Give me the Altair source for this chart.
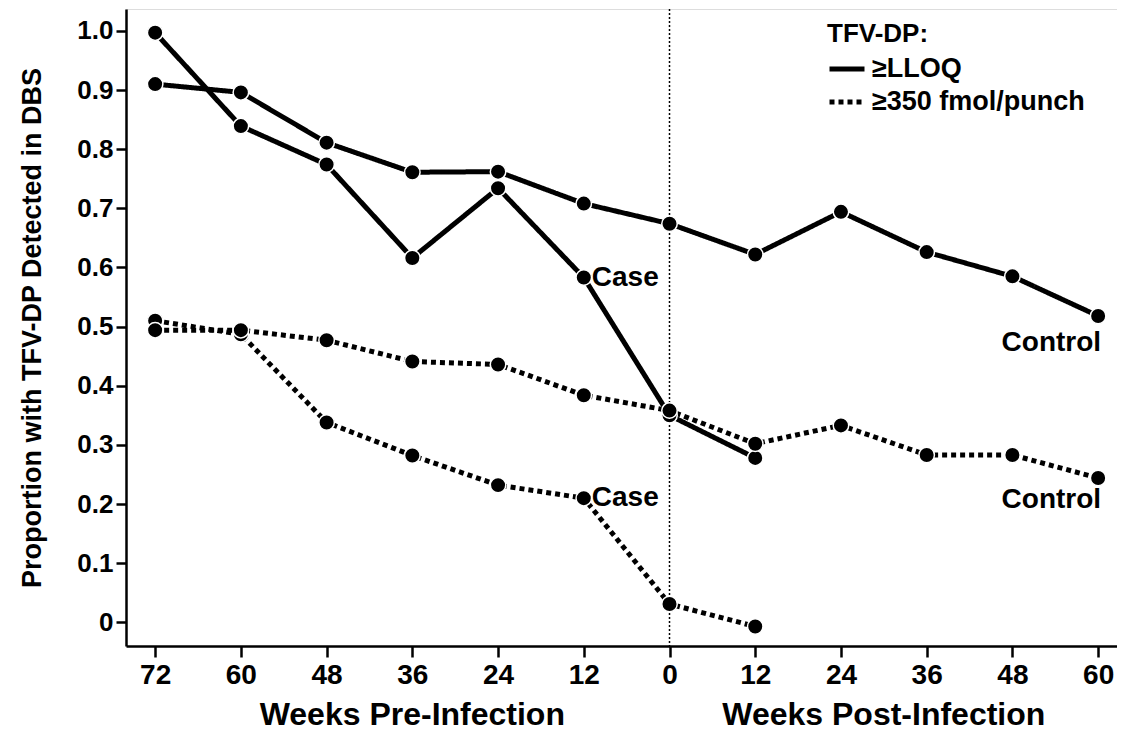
import altair as alt
import pandas as pd

tick_labels = ["72", "60", "48", "36", "24", "12", "0", "12", "24", "36", "48", "60"]
idx = list(range(12))

case_lloq = [0.997, 0.839, 0.774, 0.616, 0.734, 0.583, 0.350, 0.278]
control_lloq = [0.910, 0.896, 0.811, 0.761, 0.762, 0.708, 0.674, 0.622, 0.694, 0.626, 0.585, 0.518]
case_350 = [0.510, 0.487, 0.338, 0.282, 0.232, 0.210, 0.031, -0.007]
control_350 = [0.494, 0.494, 0.477, 0.441, 0.436, 0.384, 0.358, 0.302, 0.333, 0.283, 0.283, 0.244]

M1 = "≥LLOQ"
M2 = "≥350 fmol/punch"

rows = []
for name, grp, meas, vals in [
    ("case_lloq", "Case", M1, case_lloq),
    ("control_lloq", "Control", M1, control_lloq),
    ("case_350", "Case", M2, case_350),
    ("control_350", "Control", M2, control_350),
]:
    for i, v in enumerate(vals):
        rows.append({"idx": idx[i], "value": v, "group": grp, "measure": meas, "series": name})
df = pd.DataFrame(rows)

case_labels = pd.DataFrame([
    {"idx": 5, "value": case_lloq[5], "text": "Case"},
    {"idx": 5, "value": case_350[5], "text": "Case"},
])
control_upper = pd.DataFrame([{"idx": 11, "value": control_lloq[11], "text": "Control"}])
control_lower = pd.DataFrame([{"idx": 11, "value": control_350[11], "text": "Control"}])

FONT = "Liberation Sans"
W, H = 991, 637

label_expr = "[" + ",".join("'%s'" % t for t in tick_labels) + "][datum.value]"

x_enc = alt.X("idx:Q",
              scale=alt.Scale(domain=[-0.34, 11.22], nice=False, zero=False),
              axis=alt.Axis(values=idx, labelExpr=label_expr, title=None, grid=False,
                            labelFont=FONT, labelFontSize=28, labelFontWeight="bold",
                            labelColor="black", labelPadding=4,
                            tickSize=11, tickWidth=2.5, tickColor="black",
                            domainWidth=2.5, domainColor="black"))
y_enc = alt.Y("value:Q",
              scale=alt.Scale(domain=[-0.040, 1.037], nice=False, zero=False),
              axis=alt.Axis(values=[i / 10 for i in range(11)],
                            labelExpr="datum.value == 0 ? '0' : format(datum.value, '.1f')",
                            title="Proportion with TFV-DP Detected in DBS", grid=False,
                            labelFont=FONT, labelFontSize=26, labelFontWeight="bold",
                            labelColor="black", labelPadding=3,
                            titleFont=FONT, titleFontSize=27, titleFontWeight="bold",
                            titleColor="black", titlePadding=30,
                            tickSize=10, tickWidth=2.5, tickColor="black",
                            domainWidth=2.5, domainColor="black"))

base = alt.Chart(df)

lines = base.mark_line(color="black", strokeWidth=5).encode(
    x=x_enc, y=y_enc,
    strokeDash=alt.StrokeDash("measure:N",
                              scale=alt.Scale(domain=[M1, M2], range=[[1, 0], [5, 4]]),
                              legend=alt.Legend(title="TFV-DP:", orient="none",
                                                legendX=701, legendY=12,
                                                titleFont=FONT, titleFontSize=26,
                                                titleFontWeight="bold", titleColor="black",
                                                labelFont=FONT, labelFontSize=27,
                                                labelFontWeight="bold", labelColor="black",
                                                labelLimit=0,
                                                symbolType="stroke", symbolStrokeWidth=5,
                                                symbolSize=1225, symbolStrokeColor="black",
                                                rowPadding=0, titlePadding=2, labelOffset=5)),
    detail="series:N",
)

points = base.mark_point(filled=True, color="black", size=240, opacity=1,
                         stroke="white", strokeWidth=1.5).encode(
    x="idx:Q", y="value:Q", detail="series:N"
)

vline = alt.Chart(pd.DataFrame({"idx": [6]})).mark_rule(
    color="black", strokeWidth=1.5, strokeDash=[2, 2]
).encode(x="idx:Q")

txt = dict(font=FONT, fontSize=28, fontWeight="bold", color="black")

case_text = alt.Chart(case_labels).mark_text(
    align="left", baseline="middle", dx=8, **txt
).encode(x="idx:Q", y="value:Q", text="text:N")

control_text_u = alt.Chart(control_upper).mark_text(
    align="right", baseline="middle", dx=3, dy=27, **txt
).encode(x="idx:Q", y="value:Q", text="text:N")

control_text_l = alt.Chart(control_lower).mark_text(
    align="right", baseline="middle", dx=3, dy=22, **txt
).encode(x="idx:Q", y="value:Q", text="text:N")

xtitles = alt.Chart(pd.DataFrame({"idx": [3, 8.5],
                                  "text": ["Weeks Pre-Infection", "Weeks Post-Infection"]})).mark_text(
    align="center", baseline="middle", font=FONT, fontSize=32, fontWeight="bold", color="black"
).encode(x="idx:Q", y=alt.value(H + 69), text="text:N")

chart = alt.layer(vline, lines, points, case_text, control_text_u, control_text_l, xtitles).properties(
    width=W, height=H, padding={"left": 10, "top": 0, "right": 0, "bottom": 0}
).configure_view(
    stroke="black", strokeWidth=2.5
).configure(
    background="white"
)

chart.save("out.html", embed_options={"renderer": "svg", "actions": False})
